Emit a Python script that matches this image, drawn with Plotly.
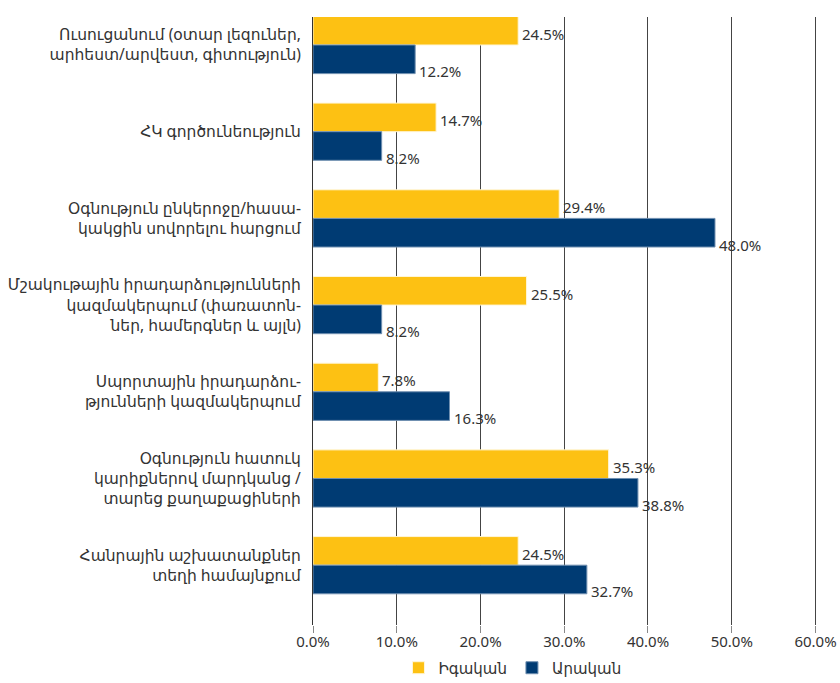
import plotly.graph_objects as go

categories = [
    "Ուսուցանում (օտար լեզուներ,<br>արհեստ/արվեստ, գիտություն)",
    "ՀԿ գործունեություն",
    "Օգնություն ընկերոջը/հասա-<br>կակցին սովորելու հարցում",
    "Մշակութային իրադարձությունների<br>կազմակերպում (փառատոն-<br>ներ, համերգներ և այլն)",
    "Սպորտային իրադարձու-<br>թյունների կազմակերպում",
    "Օգնություն հատուկ<br>կարիքներով մարդկանց /<br>տարեց քաղաքացիների",
    "Հանրային աշխատանքներ<br>տեղի համայնքում",
]
female = [24.5, 14.7, 29.4, 25.5, 7.8, 35.3, 24.5]
male = [12.2, 8.2, 48.0, 8.2, 16.3, 38.8, 32.7]
series_names = ["Իգական", "Արական"]
x_ticks = [0, 10, 20, 30, 40, 50, 60]
x_ticktext = ["0.0%", "10.0%", "20.0%", "30.0%", "40.0%", "50.0%", "60.0%"]

YELLOW = "#FDC113"
NAVY = "#003B73"
FONT = "Noto Sans, DejaVu Sans, sans-serif"

pos = list(range(len(categories)))

fig = go.Figure()
fig.add_trace(go.Bar(y=pos, x=female, orientation="h", name=series_names[0],
                     marker=dict(color=YELLOW, line=dict(color="#fff6d8", width=1))))
fig.add_trace(go.Bar(y=pos, x=male, orientation="h", name=series_names[1],
                     marker=dict(color=NAVY, line=dict(color="#6f8fb0", width=1))))

off = 0.165
annotations = []
for i, v in enumerate(female):
    annotations.append(dict(x=v, y=i - off, xref="x", yref="y", text=f"{v:.1f}%",
                            showarrow=False, xanchor="left", yanchor="middle",
                            xshift=2, yshift=-3,
                            font=dict(family=FONT, size=15, color="#333333")))
for i, v in enumerate(male):
    annotations.append(dict(x=v, y=i + off, xref="x", yref="y", text=f"{v:.1f}%",
                            showarrow=False, xanchor="left", yanchor="middle",
                            xshift=2, yshift=-12,
                            font=dict(family=FONT, size=15, color="#333333")))

fig.update_layout(
    width=840, height=683,
    margin=dict(l=313, r=22, t=17, b=58, autoexpand=False),
    paper_bgcolor="white", plot_bgcolor="white",
    barmode="group", bargap=0.34, bargroupgap=0,
    font=dict(family=FONT, size=15, color="#333333"),
    annotations=annotations,
    showlegend=True,
    legend=dict(orientation="h", x=0.395, xanchor="center",
                yref="container", y=0.022, yanchor="middle",
                font=dict(family=FONT, size=15, color="#333333"), traceorder="normal",
                itemwidth=30),
)
fig.update_xaxes(range=[0, 60.3], tickvals=x_ticks, ticktext=x_ticktext,
                 showgrid=True, gridcolor="#444444", gridwidth=1,
                 ticks="outside", ticklen=7, tickcolor="#888888",
                 ticklabelstandoff=-4,
                 zeroline=False, showline=False, automargin=False,
                 tickfont=dict(family=FONT, size=15, color="#333333"))
fig.update_yaxes(range=[6.69, -0.323], tickvals=pos, ticktext=categories,
                 showgrid=False, zeroline=False, showline=True, linecolor="#333333",
                 linewidth=1, ticks="", ticklabelstandoff=8, automargin=False,
                 tickfont=dict(family=FONT, size=15.5, color="#333333"))

fig.write_html("out.html", config={"displayModeBar": False},
               post_script="document.body.style.margin='0px';")
